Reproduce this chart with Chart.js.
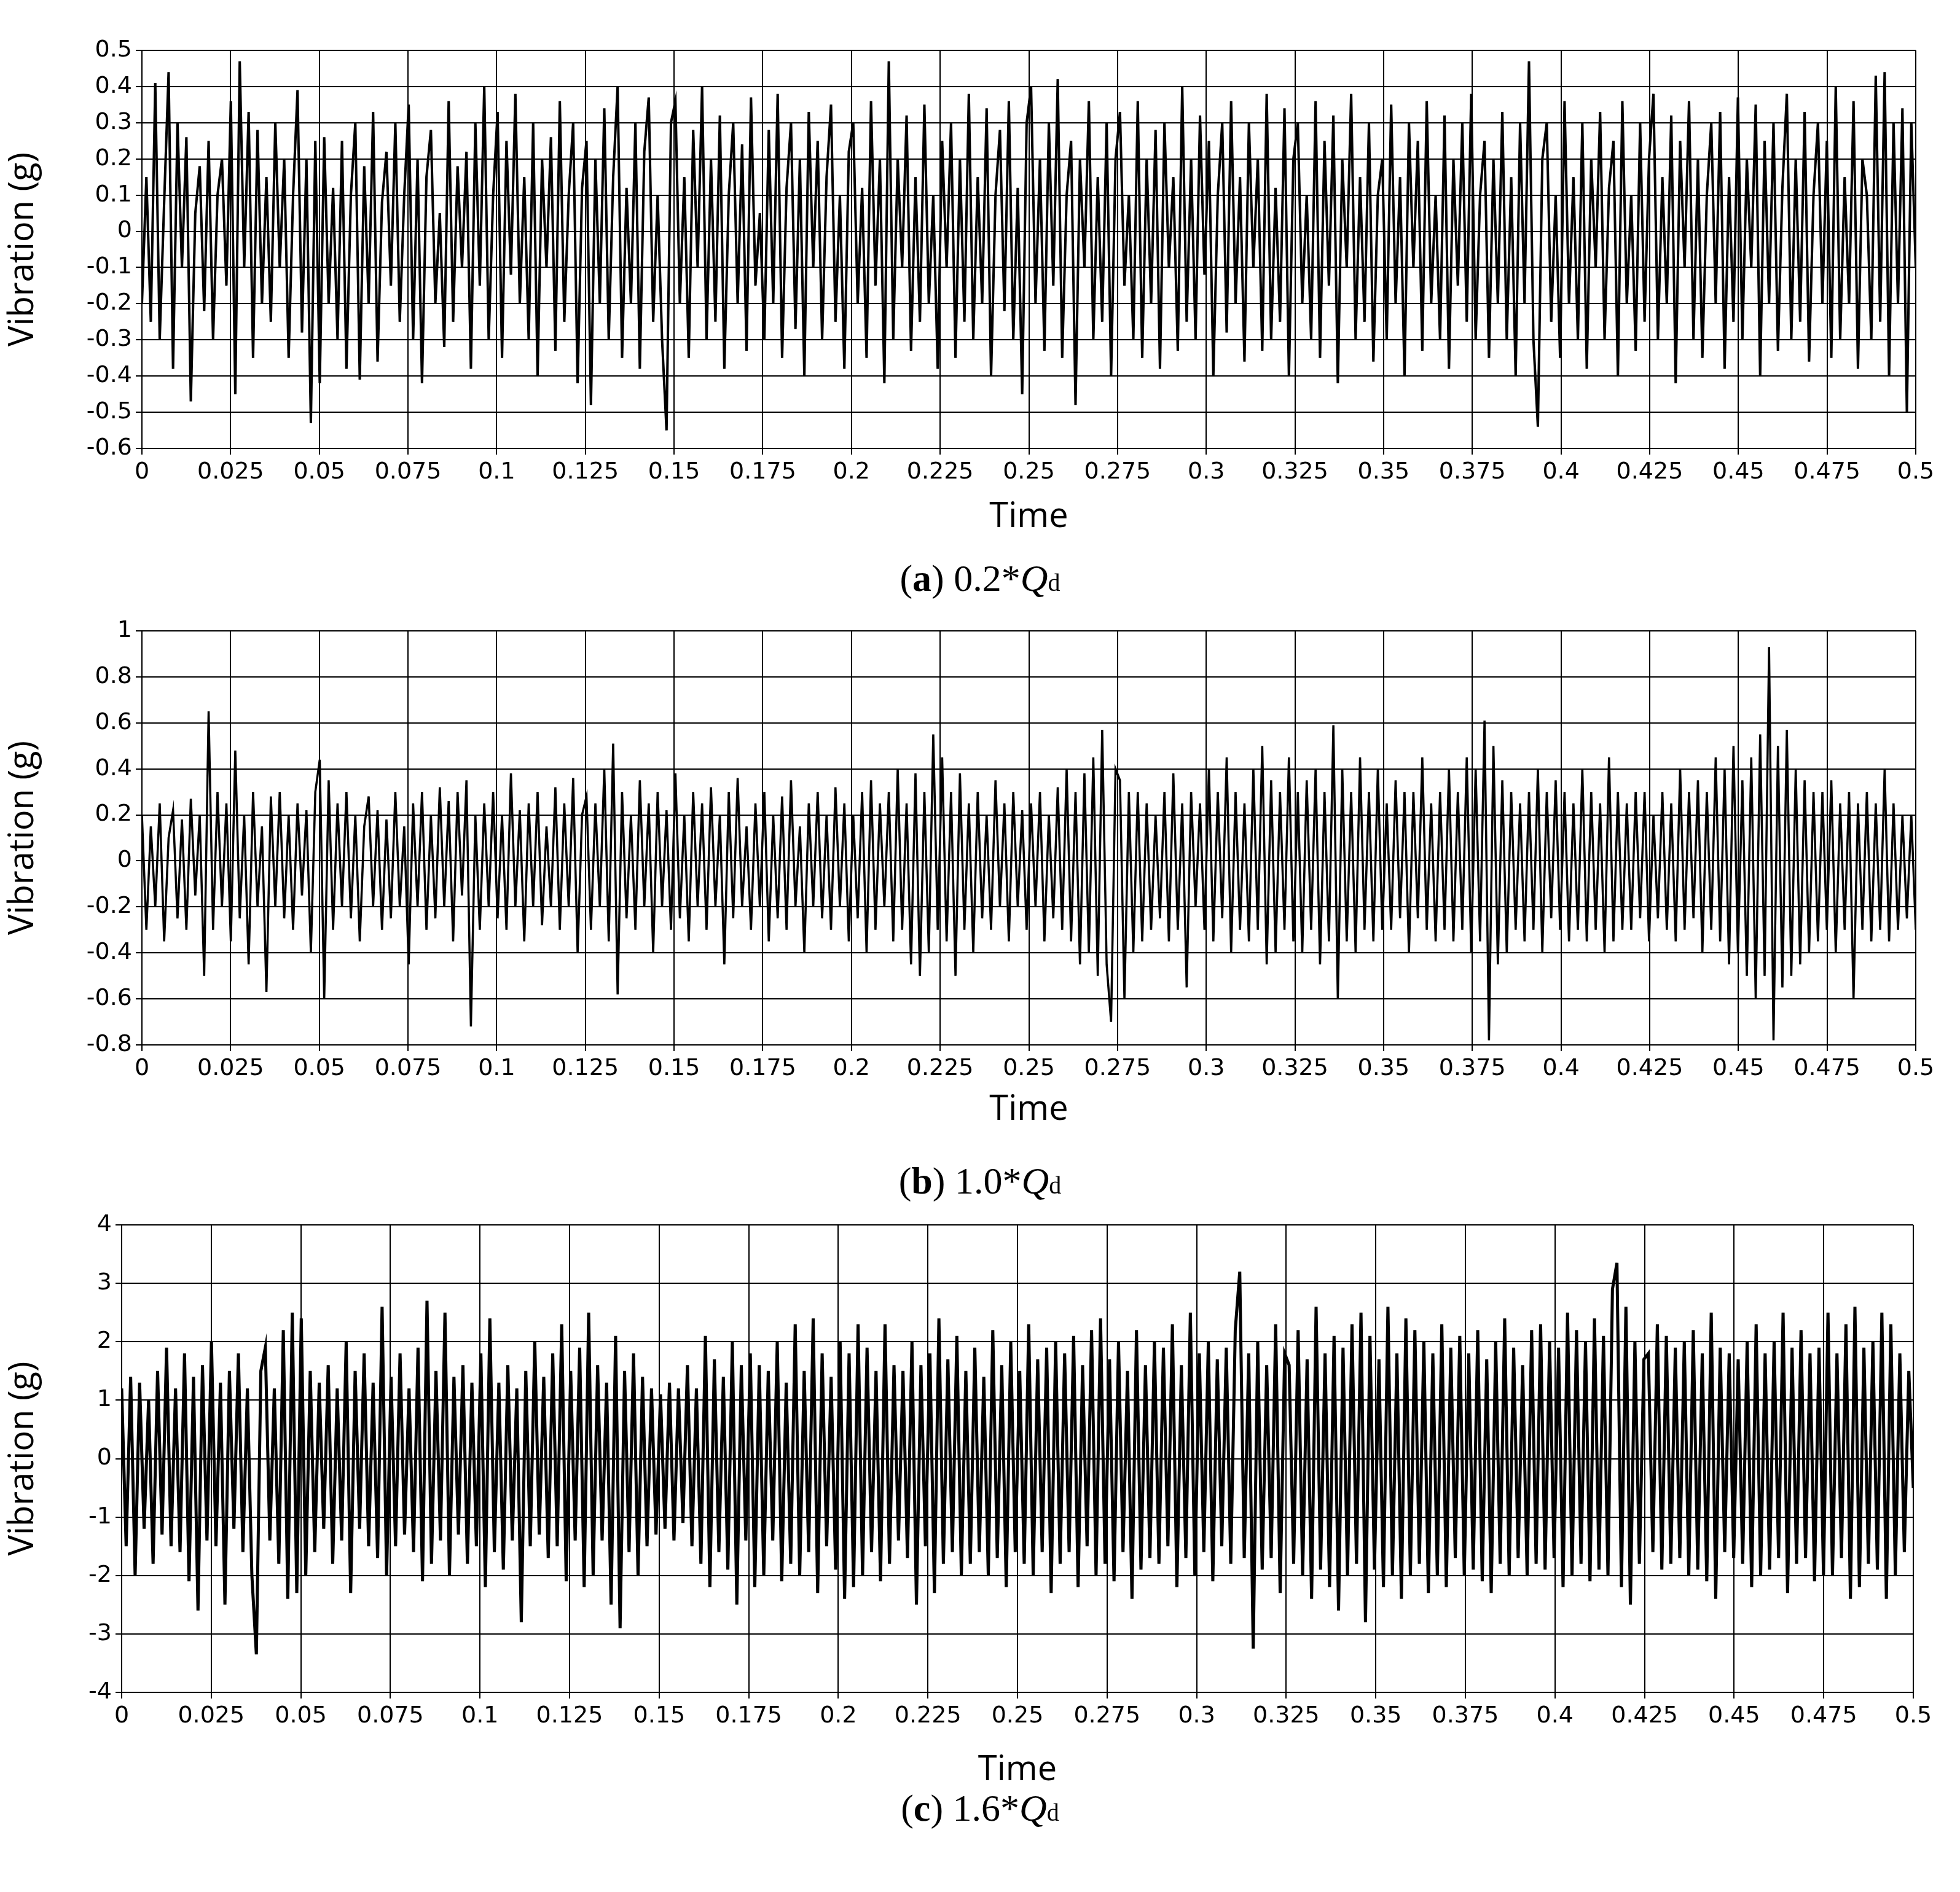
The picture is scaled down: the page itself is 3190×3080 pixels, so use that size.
<!DOCTYPE html>
<html><head><meta charset="utf-8">
<script src="https://cdn.jsdelivr.net/npm/chart.js@4"></script>
<style>
body{margin:0;width:3190px;height:3080px;background:#fff;position:relative;overflow:hidden}
.box{position:absolute;left:0;width:3190px}
.cap{position:absolute;width:3190px;text-align:center;font-family:"Liberation Serif","DejaVu Serif",serif;font-size:62px;color:#000}
.cap sub{font-size:40px;vertical-align:baseline}
</style></head><body>
<div class="box" style="top:0px;height:880px"><canvas id="ca" width="3190" height="880"></canvas></div>
<div class="box" style="top:945px;height:900px"><canvas id="cb" width="3190" height="900"></canvas></div>
<div class="box" style="top:1912px;height:1020px"><canvas id="cc" width="3190" height="1020"></canvas></div>
<div class="cap" style="top:906px">(<b>a</b>) 0.2*<i>Q</i><sub>d</sub></div>
<div class="cap" style="top:1887px">(<b>b</b>) 1.0*<i>Q</i><sub>d</sub></div>
<div class="cap" style="top:2908px">(<b>c</b>) 1.6*<i>Q</i><sub>d</sub></div>
<script>
const timeMax = 0.5;
const xTickStep = 0.025;
const vibA = [-0.2,0.15,-0.25,0.41,-0.3,0.08,0.44,-0.38,0.3,-0.1,0.26,-0.47,0.05,0.18,-0.22,0.25,-0.3,0.1,0.2,-0.15,
0.36,-0.45,0.47,-0.1,0.33,-0.35,0.28,-0.2,0.15,-0.25,0.3,-0.1,0.2,-0.35,0.1,0.39,-0.28,0.2,-0.53,0.25,
-0.42,0.26,-0.2,0.12,-0.3,0.25,-0.38,0.1,0.3,-0.41,0.18,-0.2,0.33,-0.36,0.08,0.22,-0.15,0.3,-0.25,0.1,
0.35,-0.3,0.2,-0.42,0.15,0.28,-0.2,0.05,-0.32,0.36,-0.25,0.18,-0.1,0.22,-0.38,0.3,-0.15,0.4,-0.3,0.1,
0.33,-0.35,0.25,-0.12,0.38,-0.2,0.15,-0.3,0.3,-0.4,0.2,-0.1,0.26,-0.33,0.36,-0.25,0.1,0.3,-0.42,0.12,
0.25,-0.48,0.2,-0.2,0.34,-0.3,0.15,0.4,-0.35,0.12,-0.2,0.3,-0.38,0.22,0.37,-0.25,0.1,-0.3,-0.55,0.3,
0.36,-0.2,0.15,-0.35,0.28,-0.1,0.4,-0.3,0.2,-0.25,0.32,-0.38,0.1,0.3,-0.2,0.24,-0.33,0.37,-0.15,0.05,
-0.3,0.28,-0.2,0.38,-0.35,0.12,0.3,-0.27,0.2,-0.4,0.33,-0.1,0.25,-0.3,0.15,0.35,-0.25,0.1,-0.38,0.22,
0.3,-0.2,0.12,-0.35,0.36,-0.15,0.2,-0.42,0.47,-0.3,0.2,-0.1,0.32,-0.33,0.15,-0.25,0.35,-0.2,0.1,-0.38,
0.25,-0.1,0.3,-0.35,0.2,-0.25,0.38,-0.3,0.15,-0.2,0.34,-0.4,0.1,0.28,-0.22,0.36,-0.3,0.12,-0.45,0.3,
0.4,-0.2,0.2,-0.33,0.3,-0.15,0.42,-0.35,0.1,0.25,-0.48,0.2,-0.1,0.36,-0.3,0.15,-0.25,0.3,-0.4,0.2,
0.33,-0.15,0.1,-0.3,0.36,-0.35,0.2,-0.2,0.28,-0.38,0.3,-0.1,0.15,-0.33,0.4,-0.25,0.2,-0.3,0.32,-0.12,
0.25,-0.4,0.1,0.3,-0.28,0.36,-0.2,0.15,-0.36,0.3,-0.1,0.2,-0.33,0.38,-0.3,0.12,-0.25,0.34,-0.4,0.2,
0.3,-0.2,0.1,-0.3,0.36,-0.35,0.25,-0.15,0.32,-0.42,0.2,-0.1,0.38,-0.3,0.15,-0.25,0.3,-0.36,0.1,0.2,
-0.3,0.35,-0.2,0.15,-0.4,0.3,-0.1,0.25,-0.33,0.36,-0.2,0.1,-0.3,0.32,-0.38,0.2,-0.15,0.3,-0.25,0.38,
-0.3,0.1,0.25,-0.35,0.2,-0.2,0.33,-0.3,0.15,-0.4,0.3,-0.2,0.47,-0.3,-0.54,0.2,0.3,-0.25,0.1,-0.35,
0.36,-0.2,0.15,-0.3,0.3,-0.38,0.2,-0.1,0.33,-0.3,0.12,0.25,-0.4,0.36,-0.2,0.1,-0.33,0.3,-0.25,0.2,
0.38,-0.3,0.15,-0.2,0.32,-0.42,0.25,-0.1,0.36,-0.3,0.2,-0.35,0.1,0.3,-0.2,0.33,-0.38,0.15,-0.25,0.37,
-0.3,0.2,-0.1,0.35,-0.4,0.25,-0.2,0.3,-0.33,0.12,0.38,-0.3,0.2,-0.25,0.33,-0.36,0.1,0.3,-0.2,0.25,
-0.35,0.4,-0.3,0.15,-0.2,0.36,-0.38,0.2,0.1,-0.3,0.43,-0.25,0.44,-0.4,0.3,-0.2,0.34,-0.5,0.3,-0.1];
const vibB = [0.2,-0.3,0.15,-0.2,0.25,-0.35,0.1,0.22,-0.25,0.18,-0.3,0.27,-0.15,0.2,-0.5,0.65,-0.3,0.3,-0.2,0.25,
-0.35,0.48,-0.25,0.2,-0.45,0.3,-0.2,0.15,-0.57,0.28,-0.2,0.3,-0.25,0.2,-0.3,0.25,-0.15,0.22,-0.4,0.3,
0.44,-0.6,0.35,-0.3,0.25,-0.2,0.3,-0.25,0.2,-0.35,0.15,0.28,-0.2,0.22,-0.3,0.18,-0.25,0.3,-0.2,0.15,
-0.45,0.25,-0.2,0.3,-0.3,0.2,-0.25,0.32,-0.2,0.26,-0.35,0.3,-0.15,0.35,-0.72,0.2,-0.3,0.25,-0.2,0.3,
-0.25,0.2,-0.3,0.38,-0.2,0.22,-0.35,0.25,-0.2,0.3,-0.28,0.15,-0.2,0.32,-0.3,0.25,-0.2,0.36,-0.4,0.2,
0.28,-0.3,0.25,-0.2,0.4,-0.35,0.51,-0.58,0.3,-0.25,0.2,-0.3,0.35,-0.2,0.25,-0.4,0.3,-0.2,0.22,-0.3,
0.38,-0.25,0.2,-0.35,0.3,-0.2,0.25,-0.3,0.32,-0.2,0.2,-0.45,0.3,-0.25,0.36,-0.2,0.15,-0.3,0.25,-0.2,
0.3,-0.35,0.2,-0.25,0.28,-0.3,0.35,-0.2,0.15,-0.4,0.25,-0.2,0.3,-0.25,0.2,-0.3,0.32,-0.2,0.25,-0.35,
0.2,-0.25,0.3,-0.4,0.35,-0.3,0.25,-0.2,0.3,-0.35,0.4,-0.3,0.25,-0.45,0.38,-0.5,0.3,-0.4,0.55,-0.3,
0.45,-0.35,0.3,-0.5,0.38,-0.3,0.25,-0.4,0.3,-0.25,0.2,-0.3,0.35,-0.2,0.25,-0.35,0.3,-0.2,0.22,-0.3,
0.25,-0.2,0.3,-0.35,0.2,-0.25,0.32,-0.3,0.4,-0.35,0.3,-0.45,0.38,-0.4,0.45,-0.5,0.57,-0.45,-0.7,0.4,
0.35,-0.6,0.3,-0.4,0.3,-0.35,0.25,-0.3,0.2,-0.25,0.3,-0.35,0.38,-0.3,0.25,-0.55,0.3,-0.2,0.25,-0.3,
0.4,-0.35,0.3,-0.25,0.45,-0.4,0.3,-0.3,0.25,-0.35,0.4,-0.3,0.5,-0.45,0.35,-0.4,0.3,-0.3,0.45,-0.35,
0.3,-0.4,0.35,-0.3,0.4,-0.45,0.3,-0.35,0.59,-0.6,0.4,-0.35,0.3,-0.4,0.45,-0.3,0.3,-0.35,0.4,-0.3,
0.25,-0.3,0.35,-0.25,0.3,-0.4,0.3,-0.25,0.45,-0.3,0.25,-0.35,0.3,-0.3,0.4,-0.35,0.3,-0.3,0.45,-0.4,
0.4,-0.35,0.61,-0.78,0.5,-0.45,0.35,-0.4,0.3,-0.3,0.25,-0.35,0.3,-0.3,0.4,-0.4,0.3,-0.25,0.35,-0.3,
0.3,-0.35,0.25,-0.3,0.4,-0.35,0.3,-0.3,0.25,-0.4,0.45,-0.35,0.3,-0.3,0.25,-0.3,0.3,-0.25,0.3,-0.35,
0.2,-0.25,0.3,-0.3,0.25,-0.35,0.4,-0.3,0.3,-0.25,0.35,-0.4,0.3,-0.3,0.45,-0.35,0.4,-0.45,0.5,-0.4,
0.35,-0.5,0.45,-0.6,0.55,-0.5,0.93,-0.78,0.5,-0.55,0.57,-0.5,0.4,-0.45,0.35,-0.4,0.3,-0.35,0.3,-0.3,
0.35,-0.4,0.25,-0.3,0.3,-0.6,0.25,-0.3,0.3,-0.35,0.25,-0.3,0.4,-0.35,0.25,-0.3,0.2,-0.25,0.2,-0.3];
const vibC = [1.2,-1.5,1.4,-2.0,1.3,-1.2,1.0,-1.8,1.5,-1.3,1.9,-1.5,1.2,-1.6,1.8,-2.1,1.4,-2.6,1.6,-1.4,
2.0,-1.5,1.3,-2.5,1.5,-1.2,1.8,-1.6,1.2,-2.0,-3.35,1.5,1.9,-1.4,1.2,-1.8,2.2,-2.4,2.5,-2.3,
2.4,-2.0,1.5,-1.6,1.3,-1.2,1.6,-1.8,1.2,-1.4,2.0,-2.3,1.5,-1.2,1.8,-1.5,1.3,-1.7,2.6,-2.0,
1.4,-1.5,1.8,-1.3,1.2,-1.6,1.9,-2.1,2.7,-1.8,1.5,-1.4,2.5,-2.0,1.4,-1.3,1.6,-1.8,1.3,-1.5,
1.8,-2.2,2.4,-1.6,1.3,-1.9,1.6,-1.4,1.2,-2.8,1.5,-1.5,2.0,-1.3,1.4,-1.7,1.8,-1.5,2.3,-2.1,
1.5,-1.4,1.9,-2.2,2.5,-2.0,1.6,-1.4,1.3,-2.5,2.1,-2.9,1.5,-1.6,1.8,-2.0,1.4,-1.5,1.2,-1.3,
1.1,-1.2,1.3,-1.4,1.2,-1.1,1.6,-1.5,1.2,-1.8,2.1,-2.2,1.7,-1.6,1.4,-1.9,2.0,-2.5,1.6,-1.4,
1.8,-2.2,1.6,-2.0,1.5,-1.4,2.0,-2.1,1.3,-1.8,2.3,-2.0,1.5,-1.6,2.4,-2.3,1.8,-1.5,1.4,-1.9,
2.0,-2.4,1.8,-2.2,2.3,-2.0,1.9,-1.6,1.5,-2.1,2.3,-1.8,1.6,-1.4,1.5,-1.7,2.0,-2.5,1.6,-1.5,
1.8,-2.3,2.4,-1.8,1.7,-1.6,2.1,-2.0,1.5,-1.8,1.9,-1.6,1.4,-2.0,2.2,-1.7,1.6,-2.2,2.0,-1.6,
1.5,-1.8,2.3,-2.0,1.7,-1.6,1.9,-2.3,2.0,-1.8,1.8,-1.6,2.1,-2.2,1.6,-1.5,2.2,-2.0,2.4,-1.8,
1.7,-2.1,2.0,-1.6,1.5,-2.4,2.2,-1.9,1.6,-1.7,2.0,-1.8,1.9,-1.5,2.3,-2.2,1.6,-1.7,2.5,-2.0,
1.8,-1.6,2.0,-2.1,1.7,-1.5,1.9,-1.8,2.2,3.2,-1.7,1.8,-3.25,2.0,-1.9,1.6,-1.7,2.3,-2.3,1.8,
1.6,-1.8,2.2,-2.0,1.7,-2.4,2.6,-1.9,1.8,-2.2,2.1,-2.6,1.9,-2.0,2.3,-1.8,2.5,-2.8,2.1,-1.9,
1.7,-2.2,2.6,-2.0,1.8,-2.4,2.4,-2.0,2.2,-1.8,2.0,-2.3,1.8,-2.0,2.3,-2.2,1.9,-1.7,2.1,-2.0,
1.8,-1.9,2.2,-2.1,1.7,-2.3,2.0,-1.8,2.4,-2.0,1.9,-1.7,1.6,-2.0,2.2,-1.8,2.3,-1.9,2.0,-1.7,
1.9,-2.2,2.5,-2.0,2.2,-1.8,2.0,-2.1,2.4,-1.9,2.1,-2.0,2.9,3.35,-2.2,2.6,-2.5,2.0,-1.8,1.7,
1.8,-1.6,2.3,-1.9,2.1,-1.8,1.9,-1.7,2.0,-2.0,2.2,-1.9,1.8,-2.1,2.5,-2.4,1.9,-1.6,1.8,-1.7,
1.7,-1.8,2.0,-2.2,2.3,-2.0,1.8,-1.9,2.0,-1.7,2.5,-2.3,1.9,-1.8,2.2,-1.7,1.8,-2.1,1.9,-2.0,
2.5,-2.0,1.8,-1.7,2.3,-2.4,2.6,-2.2,1.9,-1.8,2.0,-1.9,2.5,-2.4,2.3,-2.0,1.8,-1.6,1.5,-0.5];

function fmt(v){return String(Number(v.toFixed(3)));}
function make(id, vals, ymin, ymax, ystep, pad, yW, xH, lw, tpb){
  const pts = vals.map((v,i)=>({x:i*timeMax/(vals.length-1), y:v}));
  new Chart(document.getElementById(id),{
    type:'line',
    data:{datasets:[{data:pts,borderColor:'#000',borderWidth:lw,pointRadius:0,tension:0,fill:false}]},
    options:{responsive:false,maintainAspectRatio:false,animation:false,devicePixelRatio:1,
      layout:{padding:pad},
      plugins:{legend:{display:false},tooltip:{enabled:false}},
      scales:{
        x:{type:'linear',min:0,max:timeMax,
          afterBuildTicks:s=>{const t=[];for(let k=0;k<=20;k++)t.push({value:k*xTickStep});s.ticks=t;},
          afterFit:s=>{s.height=xH;},
          border:{color:'#000',width:2},
          grid:{color:'#000',lineWidth:2,tickLength:10,tickColor:'#000'},
          ticks:{color:'#000',font:{family:'DejaVu Sans',size:38},maxRotation:0,autoSkip:false,padding:6,callback:v=>fmt(v)},
          title:{display:true,text:'Time',color:'#000',font:{family:'Open Sans',size:56},padding:{top:4,bottom:tpb}}},
        y:{min:ymin,max:ymax,
          afterBuildTicks:s=>{const t=[];for(let v=ymin;v<=ymax+1e-9;v+=ystep)t.push({value:Number(v.toFixed(3))});s.ticks=t;},
          afterFit:s=>{s.width=yW;},
          border:{color:'#000',width:2},
          grid:{color:'#000',lineWidth:2,tickLength:10,tickColor:'#000'},
          ticks:{color:'#000',font:{family:'DejaVu Sans',size:38},padding:6,callback:v=>fmt(v)},
          title:{display:true,text:'Vibration (g)',color:'#000',font:{family:'Open Sans',size:56},padding:{bottom:8}}}
      }}
  });
}
make('ca', vibA, -0.6, 0.5, 0.1, {top:82,right:72,left:0,bottom:0}, 231, 150, 4, 4);
make('cb', vibB, -0.8, 1, 0.2, {top:82,right:72,left:0,bottom:0}, 231, 144, 3.5, 4);
make('cc', vibC, -4, 4, 1, {top:82,right:76,left:0,bottom:0}, 198, 177, 5, 16);
</script></body></html>
